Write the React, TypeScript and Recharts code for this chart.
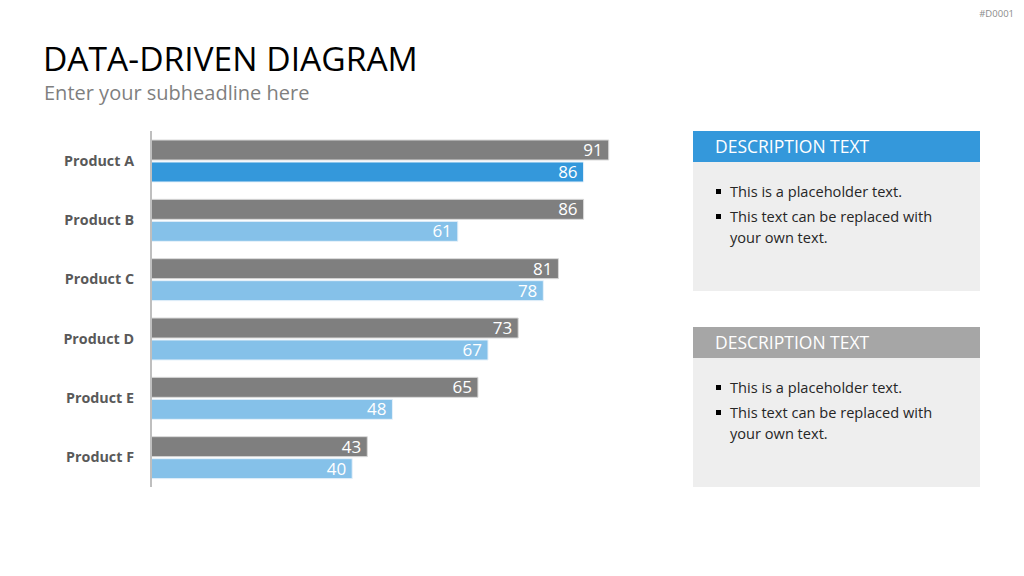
import * as React from "react";
import { BarChart, Bar, XAxis, YAxis, Cell, LabelList } from "recharts";

// chart values
const products = ["Product A", "Product B", "Product C", "Product D", "Product E", "Product F"];
const seriesOne = [91, 86, 81, 73, 65, 43];
const seriesTwo = [86, 61, 78, 67, 48, 40];
const bulletLines = ["This is a placeholder text.", "This text can be replaced with your own text."];

const FONT = "'Open Sans', 'Noto Sans', sans-serif";
const GRAY = "#7f7f7f";
const BLUE = "#3498db";
const LIGHT_BLUE = "#85c1e9";

const DescriptionBox = ({ top, headColor }: { top: number; headColor: string }) => (
  <div style={{ position: "absolute", left: 693, top, width: 287 }}>
    <div
      style={{
        height: 31,
        background: headColor,
        color: "#fff",
        fontSize: 17.5,
        lineHeight: "31px",
        paddingLeft: 22,
      }}
    >
      DESCRIPTION TEXT
    </div>
    <div style={{ height: 129, background: "#eeeeee", paddingTop: 19, boxSizing: "border-box" }}>
      {bulletLines.map((line) => (
        <div key={line} style={{ position: "relative", paddingLeft: 37, paddingRight: 38, fontSize: 14.6, lineHeight: "21px", color: "#262626", marginBottom: 4 }}>
          <span style={{ position: "absolute", left: 23, top: 8, width: 5, height: 5, background: "#000" }} />
          {line}
        </div>
      ))}
    </div>
  </div>
);

export default function App() {
  const data = products.map((name, i) => ({ name, first: seriesOne[i], second: seriesTwo[i] }));

  return (
    <div style={{ position: "fixed", left: 0, top: 0, width: 1024, height: 576, background: "#fff", fontFamily: FONT, overflow: "hidden" }}>
      <div style={{ position: "absolute", right: 10, top: 7, fontSize: 9.5, color: "#8c8c8c" }}>#D0001</div>
      <div style={{ position: "absolute", left: 43, top: 36, fontSize: 33.6, color: "#000", lineHeight: "44px" }}>
        DATA-DRIVEN DIAGRAM
      </div>
      <div style={{ position: "absolute", left: 44, top: 80, fontSize: 20, color: "#7f7f7f", lineHeight: "26px" }}>
        Enter your subheadline here
      </div>

      <div style={{ position: "absolute", left: 40, top: 131 }}>
        <BarChart
          width={614}
          height={356}
          data={data}
          layout="vertical"
          margin={{ top: 0, right: 0, bottom: 0, left: 0 }}
          barGap={2}
          barSize={20}
        >
          <XAxis type="number" domain={[0, 100]} hide />
          <YAxis
            type="category"
            dataKey="name"
            width={111}
            axisLine={{ stroke: "#bfbfbf", strokeWidth: 2 }}
            tickLine={false}
            tickSize={0}
            tickMargin={17}
            tick={{ fontSize: 14.3, fontWeight: 700, fill: "#595959", fontFamily: FONT }}
          />
          <Bar dataKey="first" fill={GRAY} stroke="#d9d9d9" strokeWidth={1} isAnimationActive={false}>
            <LabelList dataKey="first" position="insideRight" offset={6} fill="#fff" fontSize={17} fontFamily={FONT} />
          </Bar>
          <Bar dataKey="second" fill={LIGHT_BLUE} stroke="#e6f1fa" strokeWidth={1} isAnimationActive={false}>
            {data.map((d, i) => (
              <Cell key={d.name} fill={i === 0 ? BLUE : LIGHT_BLUE} />
            ))}
            <LabelList dataKey="second" position="insideRight" offset={6} fill="#fff" fontSize={17} fontFamily={FONT} />
          </Bar>
        </BarChart>
      </div>

      <DescriptionBox top={131} headColor={BLUE} />
      <DescriptionBox top={327} headColor="#a6a6a6" />
    </div>
  );
}
